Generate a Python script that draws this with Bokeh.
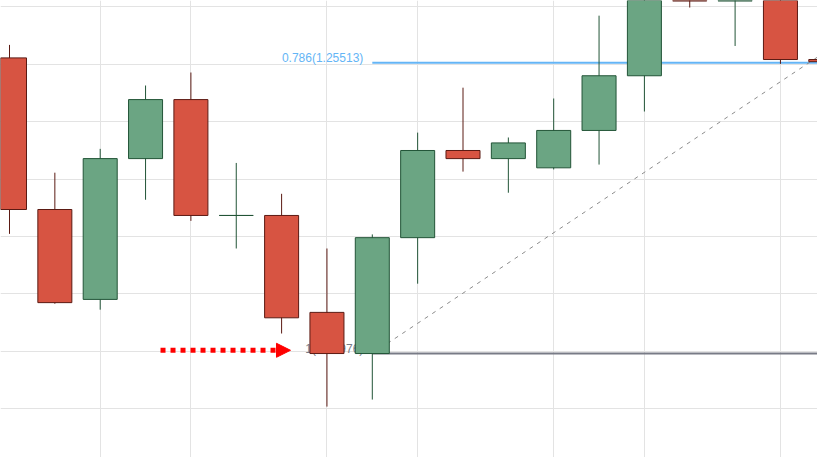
from bokeh.plotting import figure
from bokeh.models import Range1d, FixedTicker, Arrow, NormalHead, ColumnDataSource
from bokeh.core.properties import value
from bokeh.embed import file_html
from bokeh.resources import INLINE

# ---- data (candles) ----
idx = list(range(19))
open_ = [1.25522, 1.25242, 1.25076, 1.25336, 1.25445, 1.25231, 1.25231, 1.25052, 1.24976, 1.25190,
         1.25351, 1.25336, 1.25319, 1.25388, 1.25489, 1.25674, 1.25627, 1.25664, 1.25519]
high = [1.25546, 1.25310, 1.25354, 1.25471, 1.25495, 1.25328, 1.25271, 1.25170, 1.25196, 1.25384,
        1.25467, 1.25375, 1.25447, 1.25600, 1.25738, 1.25710, 1.25720, 1.25701, 1.25530]
low = [1.25197, 1.25068, 1.25057, 1.25260, 1.25221, 1.25170, 1.25013, 1.24878, 1.24891, 1.25105,
       1.25312, 1.25273, 1.25316, 1.25325, 1.25423, 1.25615, 1.25544, 1.25511, 1.25500]
close = [1.25242, 1.25070, 1.25336, 1.25445, 1.25231, 1.25231, 1.25042, 1.24976, 1.25190, 1.25351,
         1.25336, 1.25365, 1.25388, 1.25489, 1.25683, 1.25627, 1.25692, 1.25519, 1.25515]

grid_x = [2, 4, 7, 9, 12, 14, 17]
grid_y = [1.24874, 1.24980, 1.25086, 1.25192, 1.25298, 1.25404, 1.25510, 1.25616]

# Fibonacci drawing anchors
fib_low_idx, fib_low = 8, 1.24976
fib_high_idx, fib_high = 53, 1.27486
fib_levels = [0.786, 1]

UP, DOWN = "#6ba583", "#d75442"
UP_B, DOWN_B = "#225437", "#5b1a13"

p = figure(width=817, height=457, output_backend="svg", toolbar_location=None,
           x_range=Range1d(-0.1985, 17.817), y_range=Range1d(1.24784, 1.25628),
           x_axis_location=None, y_axis_location=None, min_border=0,
           outline_line_color=None, background_fill_color="white", border_fill_color="white")

p.xgrid.ticker = FixedTicker(ticks=grid_x)
p.ygrid.ticker = FixedTicker(ticks=grid_y)
p.grid.grid_line_color = "#e3e3e3"
p.grid.grid_line_width = 1

# fib level lines + labels (below candles)
lvl_prices = [fib_high - l * (fib_high - fib_low) for l in fib_levels]
lvl_colors = ["#64b5f6", "#787b86"]
lvl_text = [f"{l}({pr:.5f})" for l, pr in zip(fib_levels, lvl_prices)]
p.segment(x0=[fib_low_idx] * 2, y0=lvl_prices, x1=[fib_high_idx] * 2, y1=lvl_prices,
          line_color=lvl_colors, line_width=2)
p.line([fib_low_idx, fib_high_idx], [fib_low, fib_high], line_color="#8c8c8c",
       line_width=1, line_dash="4 5")
p.text(x=[fib_low_idx] * 2, y=lvl_prices, text=lvl_text, text_align="right",
       text_baseline="alphabetic", x_offset=-9, y_offset=-5, text_color=lvl_colors,
       text_font=value("Liberation Sans"), text_font_size="12px")

# candles
up = [c >= o for o, c in zip(open_, close)]
src = ColumnDataSource(dict(
    x=idx, high=high, low=low,
    top=[max(o, c) for o, c in zip(open_, close)],
    bottom=[min(o, c) for o, c in zip(open_, close)],
    fill=[UP if u else DOWN for u in up],
    edge=[UP_B if u else DOWN_B for u in up],
))
p.segment(x0="x", y0="high", x1="x", y1="low", line_color="edge", line_width=1, source=src)
p.vbar(x="x", width=0.75, top="top", bottom="bottom", fill_color="fill",
       line_color="edge", line_width=1, source=src)

# red dotted arrow pointing at the low candle
p.add_layout(Arrow(end=NormalHead(size=14, fill_color="#ff0000", line_color="#ff0000", line_width=1),
                   x_start=3.33, y_start=1.24982, x_end=6.196, y_end=1.24982,
                   line_color="#ff0000", line_width=5, line_dash="5 5"))

open("out.html", "w").write(file_html(p, INLINE))
